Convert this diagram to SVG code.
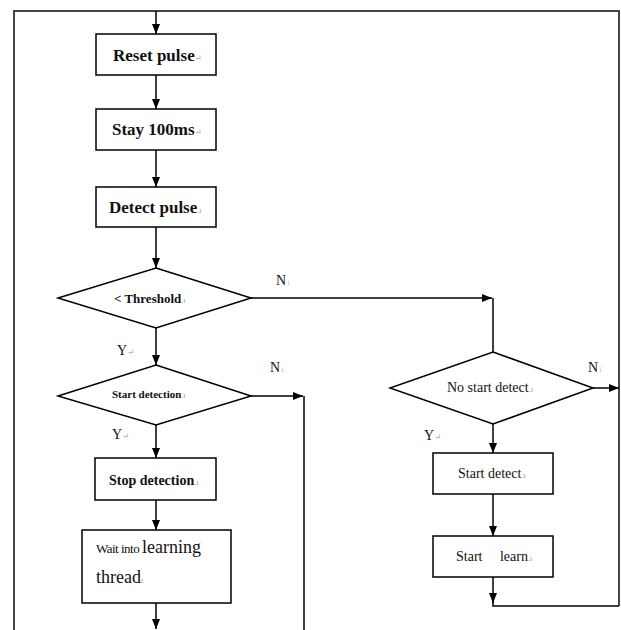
<svg xmlns="http://www.w3.org/2000/svg" width="621" height="630" viewBox="0 0 621 630">
<defs>
<marker id="ah" markerWidth="10" markerHeight="10" viewBox="0 0 10 10" refX="10" refY="5" orient="auto" markerUnits="userSpaceOnUse">
<path d="M0,1 L10,5 L0,9 Z" fill="#000"/>
</marker>
<style>
.box{fill:#fff;stroke:#000;stroke-width:1.5}
.c{fill:none;stroke:#000;stroke-width:1.5}
.a{fill:none;stroke:#000;stroke-width:1.5;marker-end:url(#ah)}
.fr{fill:none;stroke:#444;stroke-width:2}
text{font-family:'Liberation Serif','DejaVu Serif',serif;fill:#111}
.b{font-weight:bold}
.pm{fill:#999;font-size:8px;font-weight:normal}
</style>
</defs>
<rect width="621" height="630" fill="#fff"/>
<polyline class="fr" points="14,630 14,11 619,11 619,606"/>
<g id="connectors">
<line class="a" x1="156" y1="11" x2="156" y2="34"/>
<line class="a" x1="156" y1="75" x2="156" y2="109"/>
<line class="a" x1="156" y1="150" x2="156" y2="187"/>
<line class="a" x1="156" y1="227" x2="156" y2="268"/>
<line class="a" x1="156" y1="328" x2="156" y2="365"/>
<line class="a" x1="156" y1="425" x2="156" y2="458"/>
<line class="a" x1="156" y1="500" x2="156" y2="530"/>
<line class="a" x1="156" y1="603" x2="156" y2="629"/>
<line class="a" x1="251" y1="298" x2="492" y2="298"/>
<line class="c" x1="493" y1="298" x2="493" y2="352"/>
<line class="a" x1="251" y1="396" x2="303" y2="396"/>
<line class="c" x1="304" y1="396" x2="304" y2="630"/>
<line class="a" x1="493" y1="424" x2="493" y2="453"/>
<line class="a" x1="493" y1="494" x2="493" y2="536"/>
<line class="a" x1="493" y1="577" x2="493" y2="603"/>
<polyline class="c" points="493,600 493,606 619,606"/>
<line class="a" x1="593" y1="388" x2="619" y2="388"/>
</g>
<g id="reset">
<rect class="box" x="96" y="34" width="120" height="41"/>
<text class="b" x="113" y="61" font-size="17" font-family="Liberation Serif, serif">Reset pulse<tspan class="pm">↵</tspan></text>
</g>
<g id="stay">
<rect class="box" x="96" y="109" width="120" height="41"/>
<text class="b" x="112" y="135" font-size="17" font-family="Liberation Serif, serif">Stay 100ms<tspan class="pm">↵</tspan></text>
</g>
<g id="detect">
<rect class="box" x="96" y="187" width="120" height="40"/>
<text class="b" x="109" y="213" font-size="17" font-family="Liberation Serif, serif">Detect pulse<tspan class="pm">.ı</tspan></text>
</g>
<g id="threshold">
<polygon class="box" points="156,268 251,298 156,328 58,298"/>
<text class="b" x="114" y="303" font-size="13" font-family="Liberation Serif, serif">&lt; Threshold<tspan class="pm">.ı</tspan></text>
</g>
<g id="startdetection">
<polygon class="box" points="156,365 251,396 156,425 58,396"/>
<text class="b" x="112" y="398" font-size="11" font-family="Liberation Serif, serif">Start detection<tspan class="pm">.ı</tspan></text>
</g>
<g id="stop">
<rect class="box" x="95" y="458" width="121" height="42"/>
<text class="b" x="109" y="485" font-size="14" font-family="Liberation Serif, serif">Stop detection<tspan class="pm">.ı</tspan></text>
</g>
<g id="wait">
<rect class="box" x="82" y="530" width="149" height="73"/>
<text x="96" y="553" font-size="13" letter-spacing="-0.5" font-family="Liberation Serif, serif">Wait into <tspan font-size="18" letter-spacing="0">learning</tspan></text>
<text x="96" y="583" font-size="18" font-family="Liberation Serif, serif">thread<tspan class="pm">ı</tspan></text>
</g>
<g id="nostart">
<polygon class="box" points="493,352 593,388 493,424 390,388"/>
<text x="447" y="392" font-size="14" font-family="Liberation Serif, serif">No start detect<tspan class="pm">.ı</tspan></text>
</g>
<g id="startdetect">
<rect class="box" x="433" y="453" width="120" height="41"/>
<text x="458" y="478" font-size="14" font-family="Liberation Serif, serif">Start detect<tspan class="pm">.ı</tspan></text>
</g>
<g id="startlearn">
<rect class="box" x="433" y="536" width="120" height="41"/>
<text x="456" y="561" font-size="14" xml:space="preserve" font-family="Liberation Serif, serif">Start     learn<tspan class="pm">.ı</tspan></text>
</g>
<g id="labels">
<text x="276" y="285" font-size="14" font-family="Liberation Serif, serif">N<tspan class="pm">↓</tspan></text>
<text x="117" y="355" font-size="14" font-family="Liberation Serif, serif">Y<tspan class="pm">↵</tspan></text>
<text x="270" y="372" font-size="14" font-family="Liberation Serif, serif">N<tspan class="pm">↓</tspan></text>
<text x="112" y="439" font-size="14" font-family="Liberation Serif, serif">Y<tspan class="pm">↵</tspan></text>
<text x="588" y="372" font-size="14" font-family="Liberation Serif, serif">N<tspan class="pm">↓</tspan></text>
<text x="424" y="440" font-size="14" font-family="Liberation Serif, serif">Y<tspan class="pm">↵</tspan></text>
</g>
</svg>
